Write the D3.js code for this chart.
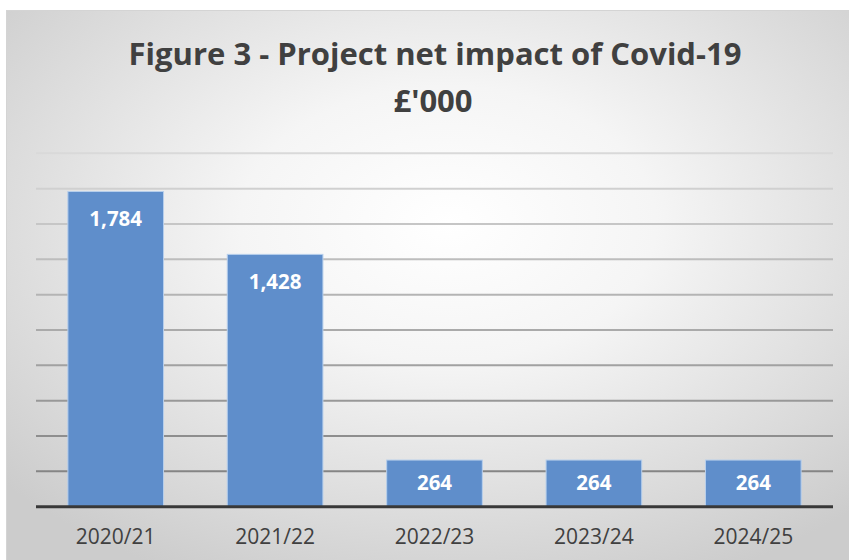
<!DOCTYPE html>
<html>
<head>
<meta charset="utf-8">
<script src="https://cdn.jsdelivr.net/npm/d3@7"></script>
<style>
  body { margin: 0; background: #fff; }
  svg { display: block; }
</style>
</head>
<body>
<svg id="chart"></svg>
<script>
// chart data
var years = ["2020/21", "2021/22", "2022/23", "2023/24", "2024/25"];
var impact = [1784, 1428, 264, 264, 264];
var gridTicks = [200, 400, 600, 800, 1000, 1200, 1400, 1600, 1800, 2000];
var titleLines = ["Figure 3 - Project net impact of Covid-19", "£'000"];

var width = 849;
var height = 560;
var font = "'Open Sans', Lato, sans-serif";

var svg = d3.select("#chart")
    .attr("width", width)
    .attr("height", height);

// background gradient like the excel chart area
var defs = svg.append("defs");
var bg = defs.append("radialGradient")
    .attr("id", "bg")
    .attr("cx", "52%").attr("cy", "38%").attr("r", "70%");
bg.append("stop").attr("offset", "0%").attr("stop-color", "#ffffff");
bg.append("stop").attr("offset", "35%").attr("stop-color", "#f5f5f5");
bg.append("stop").attr("offset", "100%").attr("stop-color", "#cccccc");

svg.append("rect")
    .attr("x", 6.5).attr("y", 10.5)
    .attr("width", width).attr("height", height)
    .attr("fill", "url(#bg)")
    .attr("stroke", "#d4d4d4");

var x = d3.scaleBand()
    .domain(years)
    .range([36, 833])
    .paddingInner(0.4)
    .paddingOuter(0.2);

var y = d3.scaleLinear()
    .domain([0, 2000])
    .range([506.7, 153.3]);

// gridlines get darker towards the bottom
var gridColor = d3.scaleLinear()
    .domain([2000, 200])
    .range(["#d9d9d9", "#858585"]);

svg.append("g")
    .selectAll("line")
    .data(gridTicks)
    .enter()
    .append("line")
    .attr("x1", 36)
    .attr("x2", 833)
    .attr("y1", d => y(d))
    .attr("y2", d => y(d))
    .attr("stroke", d => gridColor(d))
    .attr("stroke-width", 2);

svg.append("g")
    .selectAll("rect")
    .data(impact)
    .enter()
    .append("rect")
    .attr("x", (d, i) => x(years[i]))
    .attr("y", d => y(d))
    .attr("width", x.bandwidth())
    .attr("height", d => y(0) - y(d))
    .attr("fill", "#5f8ecb")
    .attr("stroke", "#b7cfec")
    .attr("stroke-width", 1);

// baseline
svg.append("line")
    .attr("x1", 36).attr("x2", 833)
    .attr("y1", y(0)).attr("y2", y(0))
    .attr("stroke", "#383838")
    .attr("stroke-width", 3);

// value labels inside bar ends
svg.append("g")
    .selectAll("text")
    .data(impact)
    .enter()
    .append("text")
    .attr("x", (d, i) => x(years[i]) + x.bandwidth() / 2)
    .attr("y", d => y(d) + Math.min(35, (y(0) - y(d)) / 2 + 7))
    .attr("text-anchor", "middle")
    .attr("font-family", font)
    .attr("font-weight", "bold")
    .attr("font-size", 20.5)
    .attr("fill", "#ffffff")
    .text(d => d3.format(",")(d));

// x axis labels
svg.append("g")
    .selectAll("text")
    .data(years)
    .enter()
    .append("text")
    .attr("x", d => x(d) + x.bandwidth() / 2)
    .attr("y", 544)
    .attr("text-anchor", "middle")
    .attr("font-family", font)
    .attr("font-size", 21)
    .attr("fill", "#404040")
    .text(d => d);

// title
svg.append("text")
    .attr("x", 435).attr("y", 65)
    .attr("text-anchor", "middle")
    .attr("font-family", font)
    .attr("font-weight", "bold")
    .attr("font-size", 31)
    .attr("fill", "#404040")
    .text(titleLines[0]);

svg.append("text")
    .attr("x", 433).attr("y", 112)
    .attr("text-anchor", "middle")
    .attr("font-family", font)
    .attr("font-weight", "bold")
    .attr("font-size", 31)
    .attr("fill", "#404040")
    .text(titleLines[1]);
</script>
</body>
</html>
